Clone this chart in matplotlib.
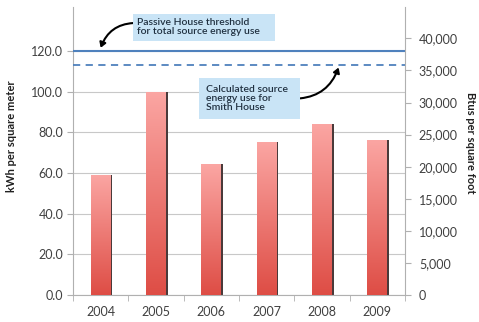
import matplotlib
matplotlib.use("Agg")
import matplotlib.pyplot as plt
import numpy as np
from matplotlib.colors import LinearSegmentedColormap
from matplotlib.ticker import FuncFormatter

years = ["2004", "2005", "2006", "2007", "2008", "2009"]
kwh_values = [59.0, 100.0, 64.3, 75.4, 84.1, 76.2]
threshold = 120.0
smith_house = 113.0
left_ticks = [0, 20, 40, 60, 80, 100, 120]
right_ticks = [0, 5000, 10000, 15000, 20000, 25000, 30000, 35000, 40000]
KWH_TO_BTU = 317.1

plt.rcParams['font.family'] = ['Lato', 'DejaVu Sans']

fig = plt.figure(figsize=(4.79, 3.22), dpi=100)
ax = fig.add_axes([0.1524, 0.0839, 0.6931, 0.894])
ymax = 141.5
ax.set_ylim(0, ymax)
ax.set_xlim(-0.5, len(years) - 0.5)

ax.set_yticks(left_ticks)
ax.yaxis.grid(True, color="#c8c8c8", linewidth=0.8)
ax.set_axisbelow(True)

cmap = LinearSegmentedColormap.from_list("bar", ["#de4d45", "#fba6a3"])
x = np.arange(len(years))
w = 0.36
shadow = ax.bar(x + 0.03, kwh_values, width=w, color="#4a3a3a", zorder=2)
bars = ax.bar(x, kwh_values, width=w, color="none", zorder=3)
grad = np.linspace(0, 1, 256).reshape(-1, 1)
for b in bars:
    bx = b.get_x()
    bw, bh = b.get_width(), b.get_height()
    im = ax.imshow(grad, extent=[bx, bx + bw, 0, bh], origin="lower",
                   cmap=cmap, aspect="auto", zorder=3)
    im.set_clip_path(b)
ax.set_xlim(-0.5, len(years) - 0.5)
ax.set_ylim(0, ymax)

ax.axhline(threshold, color="#4f81bd", linewidth=1.5, zorder=4)
ax.axhline(smith_house, color="#4f81bd", linewidth=1.3, linestyle=(0, (4, 3)), zorder=4)

ax.set_xticks(x)
ax.set_xticklabels(years, fontsize=9, color="#404040")
ax.set_xticks(np.arange(len(years) + 1) - 0.5, minor=True)
ax.tick_params(axis="x", which="major", length=0, pad=8)
ax.tick_params(axis="x", which="minor", length=4, color="#b0b0b0")
ax.yaxis.set_major_formatter(FuncFormatter(lambda v, p: f"{v:.1f}"))
ax.tick_params(axis="y", labelsize=9, labelcolor="#404040", length=4, color="#b0b0b0", pad=3)
for s in ["top", "right"]:
    ax.spines[s].set_visible(False)
ax.spines["left"].set_color("#b0b0b0")
ax.spines["bottom"].set_color("#b0b0b0")
ax.set_ylabel("kWh per square meter", fontsize=8, fontweight="bold", color="#202020", labelpad=6)
ax.yaxis.set_label_coords(-0.17, 0.55)

ax2 = ax.twinx()
ax2.set_ylim(0, ymax * KWH_TO_BTU)
ax2.set_yticks(right_ticks)
ax2.yaxis.set_major_formatter(FuncFormatter(lambda v, p: f"{int(v):,}"))
ax2.tick_params(axis="y", labelsize=9, labelcolor="#404040", length=4, color="#b0b0b0", pad=6)
for s in ["top", "left", "bottom"]:
    ax2.spines[s].set_visible(False)
ax2.spines["right"].set_color("#b0b0b0")
ax2.set_ylabel("Btus per square foot", fontsize=8, fontweight="bold", color="#202020",
               rotation=270, labelpad=12)
ax2.yaxis.set_label_coords(1.215, 0.53)

box = dict(boxstyle="square,pad=0.4", facecolor="#c9e4f6", edgecolor="none")
ax.annotate("Passive House threshold    \nfor total source energy use    ",
            xy=(0.0, threshold + 1.5), xytext=(0.66, 131.5),
            fontsize=7.5, color="#203040", fontweight="semibold", va="center", ha="left",
            linespacing=1.0, bbox=box, zorder=6,
            arrowprops=dict(arrowstyle="-|>,head_width=0.25,head_length=0.4", color="black",
                            lw=1.5, connectionstyle="arc3,rad=0.35", shrinkA=0, shrinkB=0,
                            relpos=(0.0, 0.75)))
ax.annotate("Calculated source  \nenergy use for\nSmith House",
            xy=(4.3, smith_house - 1.2), xytext=(1.9, 96.5),
            fontsize=7.5, color="#203040", fontweight="semibold", va="center", ha="left",
            linespacing=1.0, bbox=dict(boxstyle="square,pad=0.7", facecolor="#c9e4f6", edgecolor="none"),
            zorder=6,
            arrowprops=dict(arrowstyle="-|>,head_width=0.25,head_length=0.4", color="black",
                            lw=1.5, connectionstyle="arc3,rad=0.35", shrinkA=0, shrinkB=0,
                            relpos=(1.0, 0.5)))

fig.savefig("out.png", dpi=100)
